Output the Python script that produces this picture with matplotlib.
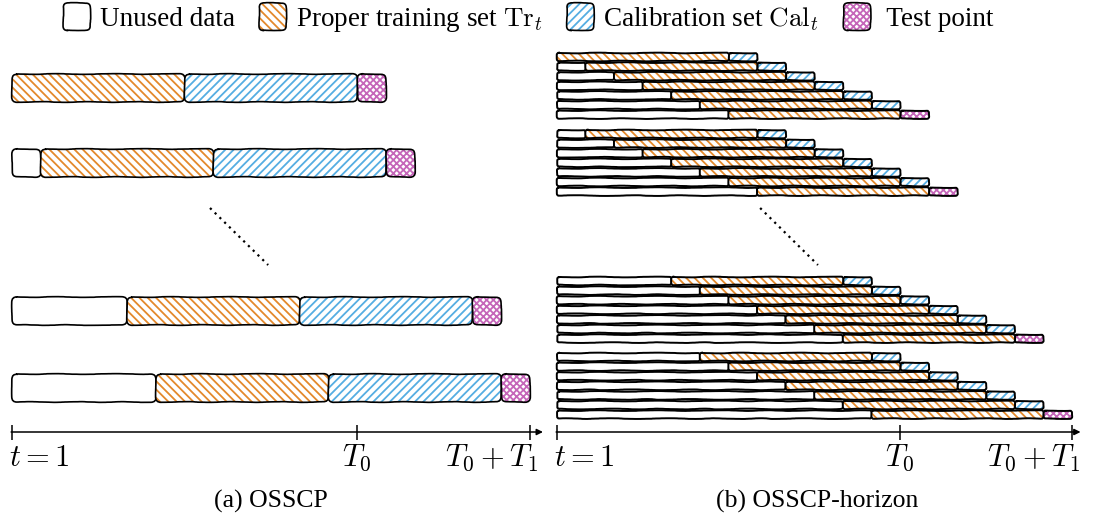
import matplotlib
matplotlib.use("Agg")
import matplotlib.pyplot as plt
from matplotlib.patches import FancyBboxPatch, Patch
from matplotlib.legend_handler import HandlerPatch

plt.rcParams['font.family'] = ['Liberation Serif', 'DejaVu Serif']
plt.rcParams['mathtext.fontset'] = 'cm'
plt.rcParams['hatch.linewidth'] = 1.3

# data (in time steps)
T0 = 12
T1 = 6
shifts = [0, 1, 4, 5]          # unused steps before each window
train_len = 6
cal_len_a = 6                  # OSSCP: one calibration block
cal_len_b = 1                  # OSSCP-horizon: one step per row
test_len = 1
horizon_rows = 7
tick_pos = [0, T0, T0 + T1]
tick_labels = ['$t = 1$', '$T_0$', '$T_0 + T_1$']
legend_labels = ['Unused data', r'Proper training set $\mathrm{Tr}_t$',
                 r'Calibration set $\mathrm{Cal}_t$', ' Test point']
captions = ['(a) OSSCP', '(b) OSSCP-horizon']

colors = {'unused': 'white', 'train': '#e3892c', 'cal': '#55ade2', 'test': '#c566b9'}
hatches = {'unused': None, 'train': '\\\\\\\\', 'cal': '////', 'test': 'xxxxx'}

fig = plt.figure(figsize=(10.94, 5.22), dpi=100)
ax_a = fig.add_axes([0, 0, 0.5, 1])
ax_b = fig.add_axes([0.5, 0, 0.5, 1])
ax_a.set_xlim(-0.417, 18.59)
ax_b.set_xlim(-0.35, 18.77)
for ax in (ax_a, ax_b):
    ax.set_ylim(522, 0)
    ax.axis('off')


def px_per_x(ax):
    return abs(ax.transData.transform((1, 0))[0] - ax.transData.transform((0, 0))[0])


def px_ratio(ax):
    p0 = ax.transData.transform((0, 0))
    p1 = ax.transData.transform((1, 1))
    return abs(p1[0] - p0[0]) / abs(p1[1] - p0[1])


def block(ax, x0, length, yc, h, kind, r, lw=1.2):
    if length <= 0:
        return
    m = px_ratio(ax)
    style = 'round,pad=0,rounding_size=%f' % (r / px_per_x(ax))
    fill = FancyBboxPatch((x0, yc - h / 2), length, h, boxstyle=style,
                          mutation_aspect=m, facecolor='white',
                          edgecolor=colors[kind], hatch=hatches[kind], lw=0)
    ax.add_patch(fill)
    edge = FancyBboxPatch((x0, yc - h / 2), length, h, boxstyle=style,
                          mutation_aspect=m, fill=False, edgecolor='black', lw=lw)
    edge.set_sketch_params(scale=0.35, length=120, randomness=10)
    ax.add_patch(edge)


# (a) OSSCP
rows_a = [88, 163, 311, 388]
for s, yc in zip(shifts, rows_a):
    block(ax_a, 0, s, yc, 28, 'unused', 5)
    block(ax_a, s, train_len, yc, 28, 'train', 5)
    block(ax_a, s + train_len, cal_len_a, yc, 28, 'cal', 5)
    block(ax_a, s + train_len + cal_len_a, test_len, yc, 28, 'test', 5)

# (b) OSSCP-horizon
groups_b = [57, 134, 281, 357]
for s, y0 in zip(shifts, groups_b):
    for k in range(horizon_rows):
        yc = y0 + k * 9.6
        start = s + k
        block(ax_b, 0, start, yc, 8, 'unused', 2, 1.4)
        block(ax_b, start, train_len, yc, 8, 'train', 2, 1.4)
        if k < horizon_rows - 1:
            block(ax_b, start + train_len, cal_len_b, yc, 8, 'cal', 2, 1.4)
        else:
            block(ax_b, start + train_len, test_len, yc, 8, 'test', 2, 1.4)

# dots between the groups
ax_a.plot([6.88, 8.9], [208, 265], color='black', lw=1.6, ls=(0, (1, 2)))
ax_b.plot([7.1, 9.12], [208, 265], color='black', lw=1.6, ls=(0, (1, 2)))

# time axes
for ax, cap, cx, xend in ((ax_a, captions[0], 9.0, 18.45), (ax_b, captions[1], 9.1, 18.3)):
    ax.annotate('', xy=(xend, 432), xytext=(-0.03, 432), annotation_clip=False,
                arrowprops=dict(arrowstyle='-|>', lw=1.1, color='black',
                                shrinkA=0, shrinkB=0, mutation_scale=9))
    ax.vlines(tick_pos, 425, 440, color='black', lw=1.1)
    ax.text(tick_pos[0] - 0.1, 458, tick_labels[0], fontsize=22, ha='left', va='center')
    ax.text(tick_pos[1], 458, tick_labels[1], fontsize=22, ha='center', va='center')
    ax.text(tick_pos[2] + 0.3, 458, tick_labels[2], fontsize=22, ha='right', va='center')
    ax.text(cx, 501, cap, fontsize=18.5, ha='center', va='center')


class RoundHandler(HandlerPatch):
    def create_artists(self, legend, orig_handle, xdescent, ydescent,
                       width, height, fontsize, trans):
        style = 'round,pad=0,rounding_size=3'
        fill = FancyBboxPatch((-xdescent, -ydescent - 3), width, height + 6,
                              boxstyle=style, facecolor='white',
                              edgecolor=orig_handle.get_edgecolor(),
                              hatch=orig_handle.get_hatch(), lw=0, transform=trans)
        edge = FancyBboxPatch((-xdescent, -ydescent - 3), width, height + 6,
                              boxstyle=style, fill=False, edgecolor='black',
                              lw=1.2, transform=trans)
        edge.set_sketch_params(scale=0.3, length=60, randomness=10)
        return [fill, edge]


kinds = ['unused', 'train', 'cal', 'test']
handles = [Patch(facecolor='white', edgecolor=colors[k], hatch=hatches[k]) for k in kinds]
fig.legend(handles, legend_labels, loc='upper center', bbox_to_anchor=(0.483, 1.037),
           ncol=4, frameon=False, fontsize=19.5, handlelength=1.0, handleheight=0.7,
           handletextpad=0.35, columnspacing=0.9,
           handler_map={Patch: RoundHandler()})

fig.savefig('out.png', dpi=100)
